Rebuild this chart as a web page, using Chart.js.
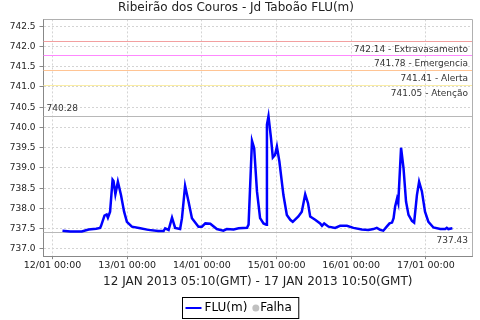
<!DOCTYPE html>
<html>
<head>
<title>Ribeirão dos Couros - Jd Taboão FLU(m)</title>
<script src="https://cdn.jsdelivr.net/npm/chart.js"></script>
<style>
  body { margin: 0; background: #fff; }
  #chart { display: block; }
</style>
</head>
<body>
<canvas id="chart" width="480" height="320"></canvas>
<script>
// hours counted from 12/01 00:00 (local time, GMT-2)
const hours = [3.2, 5.7, 9.4, 11.6, 14.0, 15.3, 15.6, 16.7, 17.4, 17.8, 18.5, 19.3, 19.6, 20.2, 21.0, 22.0, 23.0, 23.9,
  25.5, 28.2, 30.8, 34.0, 35.7, 36.2, 37.3, 38.4, 39.4, 41.0, 41.6, 42.6, 43.7, 44.8, 46.9, 48.0, 49.1, 50.7, 52.8,
  54.9, 56.0, 58.2, 59.8, 62.5, 63.0, 64.1, 64.8, 65.7, 66.7, 67.8, 68.7, 68.9, 69.4, 70.2, 70.8, 71.5, 72.1, 72.9,
  74.2, 75.3, 76.4, 77.2, 79.0, 80.1, 81.2, 82.1, 82.8, 84.4, 86.0, 86.6, 87.3, 88.7, 90.8, 92.4, 94.6, 96.7, 99.4,
  101.5, 103.1, 104.2, 105.3, 106.3, 107.4, 108.3, 109.1, 109.6, 110.1, 110.7, 111.1, 112.0, 112.8, 113.6, 114.4,
  115.5, 116.2, 117.1, 117.8, 118.7, 119.7, 120.8, 122.4, 124.6, 126.2, 126.7, 127.2, 128.5];
const levels = [737.45, 737.43, 737.43, 737.48, 737.50, 737.52, 737.57, 737.82, 737.85, 737.77, 737.92, 738.71, 738.68,
  738.35, 738.66, 738.33, 737.92, 737.67, 737.55, 737.51, 737.47, 737.44, 737.44, 737.51, 737.47, 737.77, 737.52,
  737.49, 737.76, 738.56, 738.17, 737.76, 737.55, 737.55, 737.63, 737.62, 737.49, 737.45, 737.49, 737.48, 737.51,
  737.52, 737.60, 739.67, 739.49, 738.42, 737.76, 737.63, 737.60, 740.07, 740.28, 739.74, 739.26, 739.32, 739.53,
  739.16, 738.33, 737.84, 737.72, 737.67, 737.80, 737.92, 738.35, 738.13, 737.80, 737.72, 737.63, 737.57, 737.63,
  737.55, 737.52, 737.57, 737.57, 737.52, 737.48, 737.47, 737.49, 737.52, 737.47, 737.45, 737.55, 737.63, 737.65,
  737.76, 738.05, 738.24, 738.13, 739.50, 738.99, 738.17, 737.84, 737.69, 737.65, 738.33, 738.66, 738.42, 737.92,
  737.67, 737.53, 737.49, 737.49, 737.52, 737.49, 737.51];

const xTickHours = [0, 24, 48, 72, 96, 120];
const xTickLabels = ['12/01 00:00', '13/01 00:00', '14/01 00:00', '15/01 00:00', '16/01 00:00', '17/01 00:00'];
const yTicks = [737.0, 737.5, 738.0, 738.5, 739.0, 739.5, 740.0, 740.5, 741.0, 741.5, 742.0, 742.5];

const thresholdValues = [742.14, 741.78, 741.41, 741.05];
const thresholdNames = ['Extravasamento', 'Emergencia', 'Alerta', 'Atenção'];
const thresholdColors = ['#f2a0a0', '#ff88ff', '#ffc494', '#fbeea6'];

const chartTitle = 'Ribeirão dos Couros - Jd Taboão FLU(m)';
const xTitle = '12 JAN 2013 05:10(GMT) - 17 JAN 2013 10:50(GMT)';

const FONT = '"DejaVu Sans", sans-serif';

// threshold lines, min / max lines and their labels
const refLines = {
  id: 'refLines',
  beforeDatasetsDraw(chart) {
    const { ctx, chartArea: a, scales: { y } } = chart;
    ctx.save();
    ctx.lineWidth = 1;
    const hline = (v, color) => {
      const py = Math.round(y.getPixelForValue(v)) + 0.5;
      ctx.strokeStyle = color;
      ctx.beginPath();
      ctx.moveTo(a.left, py);
      ctx.lineTo(a.right, py);
      ctx.stroke();
      return py;
    };
    ctx.font = '9px ' + FONT;
    ctx.fillStyle = '#333';
    ctx.textBaseline = 'middle';
    ctx.textAlign = 'right';
    thresholdValues.forEach((v, i) => {
      const py = hline(v, thresholdColors[i]);
      ctx.fillText(v.toFixed(2) + ' - ' + thresholdNames[i], a.right - 4, py + 8);
    });
    const maxV = Math.max(...levels);
    const minV = Math.min(...levels);
    const pMax = hline(maxV, '#b8b8b8');
    ctx.textAlign = 'left';
    ctx.fillText(maxV.toFixed(2), a.left + 3, pMax - 7.5);
    const pMin = hline(minV, '#b8b8b8');
    ctx.textAlign = 'right';
    ctx.fillText(minV.toFixed(2), a.right - 4, pMin + 8.5);
    ctx.restore();
  },
  afterDraw(chart) {
    const { ctx, chartArea: a } = chart;
    ctx.save();
    ctx.strokeStyle = '#b0b0b0';
    ctx.lineWidth = 1;
    ctx.beginPath();
    ctx.moveTo(a.left, Math.round(a.top) + 0.5);
    ctx.lineTo(Math.round(a.right) + 0.5, Math.round(a.top) + 0.5);
    ctx.lineTo(Math.round(a.right) + 0.5, a.bottom);
    ctx.stroke();

    // legend box
    const ds = chart.data.datasets;
    ctx.font = '12px ' + FONT;
    const w1 = ctx.measureText(ds[0].label).width;
    const w2 = ctx.measureText(ds[1].label).width;
    const boxW = 3 + 16 + 3 + w1 + 5 + 7 + 1 + w2 + 7;
    const bx = Math.round(chart.width / 2 - boxW / 2) + 0.5;
    const by = 297.5, bh = 21, cy = by + bh / 2;
    ctx.strokeStyle = '#000';
    ctx.strokeRect(bx, by, boxW, bh);
    let x = bx + 3;
    ctx.strokeStyle = ds[0].borderColor;
    ctx.lineWidth = 2;
    ctx.beginPath();
    ctx.moveTo(x, cy);
    ctx.lineTo(x + 16, cy);
    ctx.stroke();
    x += 19;
    ctx.fillStyle = '#000';
    ctx.textBaseline = 'middle';
    ctx.fillText(ds[0].label, x, cy);
    x += w1 + 5;
    ctx.fillStyle = ds[1].backgroundColor;
    ctx.beginPath();
    ctx.arc(x + 3.5, cy, 3.5, 0, Math.PI * 2);
    ctx.fill();
    x += 8;
    ctx.fillStyle = '#000';
    ctx.fillText(ds[1].label, x, cy);
    ctx.restore();
  }
};

new Chart(document.getElementById('chart'), {
  type: 'line',
  data: {
    datasets: [
      {
        label: 'FLU(m)',
        data: hours.map((h, i) => ({ x: h, y: levels[i] })),
        borderColor: '#0000ff',
        backgroundColor: '#0000ff',
        borderWidth: 2.5,
        pointRadius: 0,
        tension: 0,
        fill: false
      },
      {
        label: 'Falha',
        data: [],
        borderColor: '#c0c0c0',
        backgroundColor: '#c0c0c0',
        pointRadius: 3
      }
    ]
  },
  options: {
    responsive: false,
    animation: false,
    devicePixelRatio: 1,
    layout: { padding: { left: 0, right: 8, top: 0, bottom: 23.5 } },
    plugins: {
      legend: { display: false },
      tooltip: { enabled: false },
      title: {
        display: true,
        text: chartTitle,
        color: '#222',
        font: { family: FONT, size: 12, weight: 'normal' },
        padding: { top: 1, bottom: 4 }
      }
    },
    scales: {
      x: {
        type: 'linear',
        min: -2.9,
        max: 134.8,
        afterBuildTicks: s => { s.ticks = xTickHours.map(v => ({ value: v })); },
        ticks: {
          autoSkip: false,
          maxRotation: 0,
          padding: 1,
          color: '#222',
          font: { family: FONT, size: 9.5 },
          callback: v => xTickLabels[xTickHours.indexOf(v)]
        },
        grid: { color: '#d4d4d4', tickLength: 3, tickColor: '#888' },
        border: { color: '#888', dash: [2, 2] },
        title: {
          display: true,
          text: xTitle,
          color: '#222',
          font: { family: FONT, size: 12 },
          padding: { top: 2.5, bottom: 7 }
        }
      },
      y: {
        min: 736.82,
        max: 742.67,
        afterBuildTicks: s => { s.ticks = yTicks.map(v => ({ value: v })); },
        afterFit: s => { s.width = 43.5; },
        ticks: {
          padding: 4,
          color: '#222',
          font: { family: FONT, size: 9 },
          callback: v => v.toFixed(1)
        },
        grid: { color: '#d4d4d4', tickLength: 4, tickColor: '#888' },
        border: { color: '#888', dash: [2, 2] }
      }
    }
  },
  plugins: [refLines]
});
</script>
</body>
</html>
